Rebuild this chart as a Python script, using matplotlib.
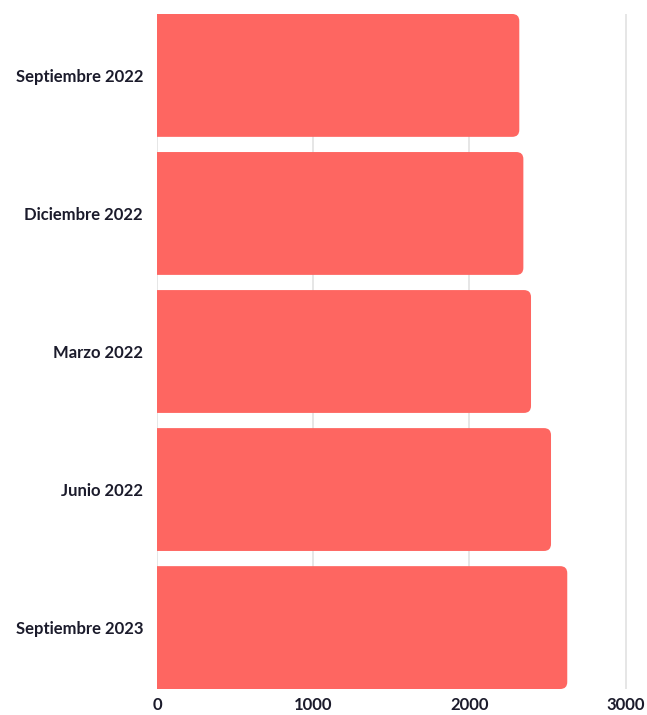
import matplotlib
matplotlib.use("Agg")
import matplotlib.pyplot as plt
from matplotlib.patches import FancyBboxPatch

categories = ["Septiembre 2022", "Diciembre 2022", "Marzo 2022", "Junio 2022", "Septiembre 2023"]
values = [2319, 2345, 2394, 2522, 2626]
xticks = [0, 1000, 2000, 3000]

bar_color = "#FE6661"
text_color = "#1b1b2b"

plt.rcParams['font.family'] = ['Lato', 'DejaVu Sans']

fig = plt.figure(figsize=(6.47, 7.15), dpi=100)
ax = fig.add_axes([157 / 647, 26 / 715, 476.5 / 647, 675 / 715])

height = 0.89
bars = ax.barh(range(len(categories)), values, height=height, color=bar_color, zorder=2)

ax.set_xlim(0, 3050)
ax.set_ylim(len(categories) - 1 + height / 2, -height / 2)

# swap plain rectangles for ones with rounded right corners
xr = 45
aspect = (7 / 138) / xr
for rect in bars:
    x0, y0 = rect.get_x(), rect.get_y()
    w, h = rect.get_width(), rect.get_height()
    rect.set_visible(False)
    # start a bit left of zero so the left corners get clipped away
    p = FancyBboxPatch((x0 - 2 * xr, y0), w + 2 * xr, h,
                       boxstyle=f"round,pad=0,rounding_size={xr}",
                       mutation_aspect=aspect, facecolor=bar_color,
                       edgecolor="none", zorder=2)
    ax.add_patch(p)

ax.set_yticks(range(len(categories)))
ax.set_yticklabels(categories, fontweight='bold')
ax.set_xticks(xticks)
ax.set_xticklabels([str(t) for t in xticks], fontweight='bold')
ax.tick_params(axis='both', length=0, labelsize=12, colors=text_color)
ax.tick_params(axis='y', pad=10)
ax.tick_params(axis='x', pad=6)

ax.grid(axis='x', color="#e2e2e2", linewidth=1.2, zorder=0)
for s in ax.spines.values():
    s.set_visible(False)

fig.savefig("out.png", dpi=100)
